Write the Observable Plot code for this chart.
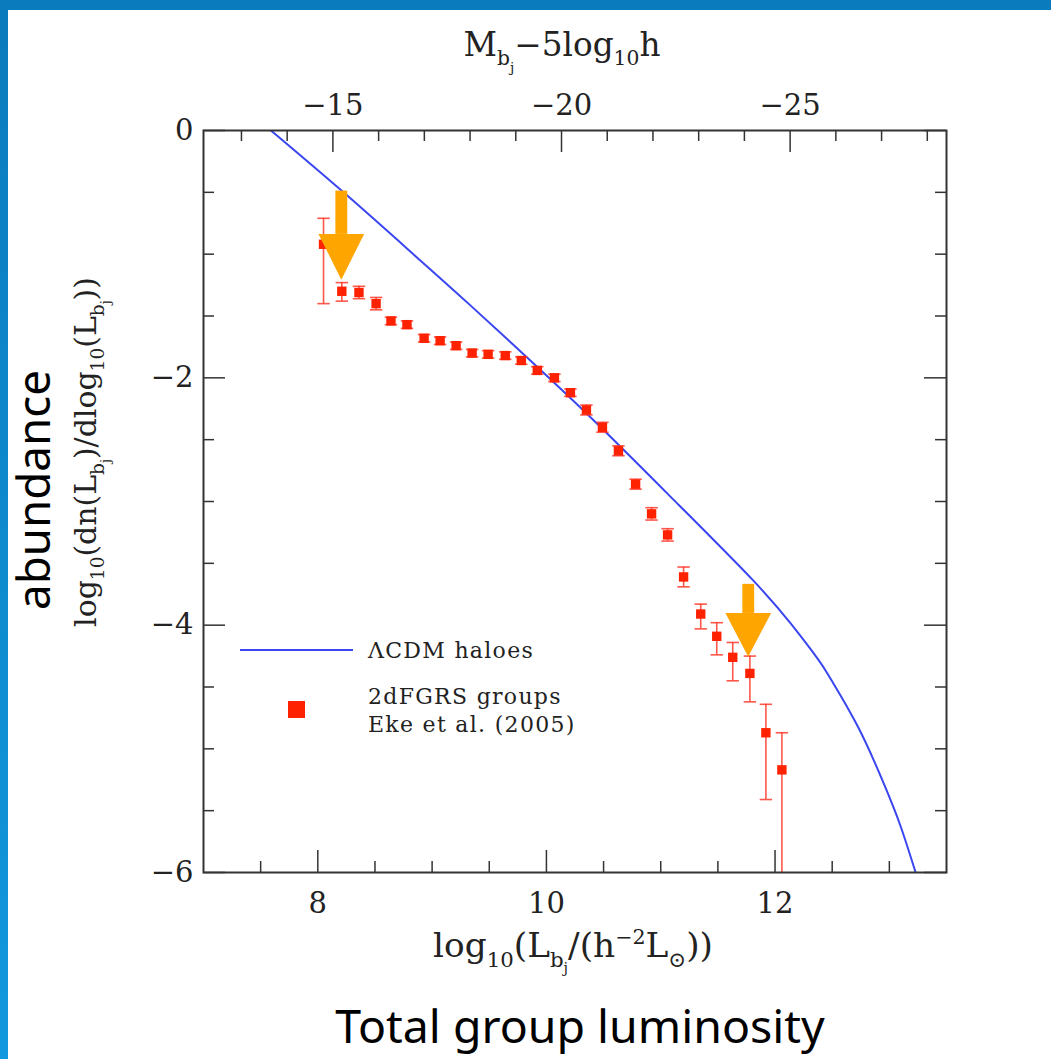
<!DOCTYPE html>
<html>
<head>
<meta charset="utf-8">
<script src="https://cdn.jsdelivr.net/npm/d3@7"></script>
<script src="https://cdn.jsdelivr.net/npm/@observablehq/plot@0.6"></script>
<style>
html, body { margin: 0; padding: 0; background: #fff; }
#page { position: relative; width: 1051px; height: 1059px; overflow: hidden; background: #fff; }
#topband { position: absolute; left: 0; top: 0; width: 1051px; height: 10px; background: #0a7bbd; }
#leftband { position: absolute; left: 0; top: 0; width: 8px; height: 1059px; background: linear-gradient(#0a7bbd, #1298de); }
#chart { position: absolute; left: 0; top: 0; }
</style>
</head>
<body>
<div id="page">
  <div id="chart"></div>
  <div id="topband"></div>
  <div id="leftband"></div>
</div>
<script>
// ---------- data ----------
const lumX   = [8.05, 8.21, 8.36, 8.51, 8.64, 8.78, 8.93, 9.07, 9.21, 9.35, 9.49, 9.64, 9.78, 9.92, 10.07, 10.21, 10.35, 10.49, 10.63, 10.78, 10.92, 11.06, 11.20, 11.35, 11.49, 11.63, 11.78, 11.92, 12.06];
const abund  = [-0.92, -1.30, -1.31, -1.40, -1.54, -1.57, -1.68, -1.70, -1.74, -1.80, -1.81, -1.82, -1.86, -1.94, -2.00, -2.12, -2.26, -2.40, -2.59, -2.86, -3.10, -3.27, -3.61, -3.91, -4.09, -4.26, -4.39, -4.87, -5.17];
const errHi  = [-0.71, -1.23, -1.26, -1.35, -1.51, -1.54, -1.65, -1.67, -1.71, -1.77, -1.78, -1.79, -1.83, -1.91, -1.97, -2.09, -2.22, -2.36, -2.55, -2.82, -3.05, -3.22, -3.53, -3.83, -3.98, -4.14, -4.25, -4.64, -4.87];
const errLo  = [-1.40, -1.38, -1.36, -1.45, -1.57, -1.60, -1.71, -1.73, -1.77, -1.83, -1.84, -1.85, -1.89, -1.97, -2.03, -2.15, -2.30, -2.44, -2.63, -2.90, -3.15, -3.32, -3.69, -4.03, -4.24, -4.45, -4.62, -5.41, -6.50];

const haloX = [7.59, 8.25, 8.86, 9.33, 9.97, 10.52, 11.16, 11.80, 12.14, 12.38, 12.49, 12.73, 12.96, 13.10, 13.23];
const haloY = [0.00, -0.52, -1.02, -1.41, -1.955, -2.44, -3.03, -3.63, -3.99, -4.28, -4.44, -4.83, -5.30, -5.63, -6.00];

// annotation arrows (orange)
const arrowX    = [8.21, 11.77];
const arrowTop  = [-0.49, -3.67];
const arrowNeck = [-0.84, -3.905];
const arrowTip  = [-1.21, -4.26];

// axes
const xMajor = [8, 10, 12];
const xMinor = [7.5, 8.5, 9, 9.5, 10.5, 11, 11.5, 12.5, 13];
const yMajor = [0, -2, -4, -6];
const yMinor = [-0.5, -1, -1.5, -2.5, -3, -3.5, -4.5, -5, -5.5];
const magMajor = [-15, -20, -25];
const magMinor = [-13, -14, -16, -17, -18, -19, -21, -22, -23, -24, -26, -27, -28];
const Msun = 5.33;

const legendLabels = ["ΛCDM haloes", "2dFGRS groups", "Eke et al. (2005)"];

// ---------- layout ----------
const W = 1051, H = 1059, mL = 203, mR = 105, mT = 130, mB = 187;
const fw = W - mL - mR, fh = H - mT - mB;
const majorLen = 22, minorLen = 11;
const axisColor = "#333";
const serif = "DejaVu Serif";
const toLogL = m => (Msun - m) / 2.5;
const fmt = d => (d < 0 ? "\u2212" : "") + Math.abs(d);

const points = lumX.map((x, i) => ({x, y: abund[i], hi: errHi[i], lo: errLo[i]}));
const halo = haloX.map((x, i) => ({x, y: haloY[i]}));
const arrows = arrowX.map((x, i) => ({x, top: arrowTop[i], neck: arrowNeck[i], tip: arrowTip[i], id: i}));
const heads = arrows.flatMap(a => [
  {x: a.x - 0.20, y1: a.neck, y2: a.neck, id: a.id},
  {x: a.x,        y1: a.neck, y2: a.tip,  id: a.id},
  {x: a.x + 0.20, y1: a.neck, y2: a.neck, id: a.id}
]);

const capSymbol = { draw(ctx, size) { const w = Math.sqrt(size); ctx.moveTo(-w / 2, 0); ctx.lineTo(w / 2, 0); } };

const ticks = (vals, orient, len, side) => {
  if (orient === "x") {
    return Plot.tickX(vals, {x: d => d, stroke: axisColor, strokeWidth: 1.5,
      ...(side === "bottom" ? {insetTop: fh - len} : {insetBottom: fh - len})});
  }
  return Plot.tickY(vals, {y: d => d, stroke: axisColor, strokeWidth: 1.5,
    ...(side === "left" ? {insetRight: fw - len} : {insetLeft: fw - len})});
};

const plot = Plot.plot({
  width: W, height: H,
  marginLeft: mL, marginRight: mR, marginTop: mT, marginBottom: mB,
  x: {domain: [7, 13.5]},
  y: {domain: [-6, 0]},
  style: {background: "transparent", fontFamily: serif, color: "#222"},
  marks: [
    // inward ticks
    ticks(xMajor, "x", majorLen, "bottom"),
    ticks(xMinor, "x", minorLen, "bottom"),
    ticks(magMajor.map(toLogL), "x", majorLen, "top"),
    ticks(magMinor.map(toLogL), "x", minorLen, "top"),
    ticks(yMajor, "y", majorLen, "left"),
    ticks(yMinor, "y", minorLen, "left"),
    ticks(yMajor, "y", majorLen, "right"),
    ticks(yMinor, "y", minorLen, "right"),
    // tick labels
    Plot.axisX(xMajor, {anchor: "bottom", tickSize: 0, tickPadding: 20, tickFormat: fmt, fontSize: 29, label: null}),
    Plot.axisX(magMajor.map(toLogL), {anchor: "top", tickSize: 0, tickPadding: 16, fontSize: 29, label: null,
      tickFormat: d => fmt(Math.round(Msun - 2.5 * d))}),
    Plot.axisY(yMajor, {anchor: "left", tickSize: 0, tickPadding: 10, tickFormat: fmt, fontSize: 29, label: null}),
    // model curve
    Plot.line(halo, {x: "x", y: "y", stroke: "#3a46f0", strokeWidth: 2, curve: "natural", clip: true}),
    // error bars
    Plot.ruleX(points, {x: "x", y1: "lo", y2: "hi", stroke: "#ff3a2a", strokeOpacity: 0.85, strokeWidth: 1.6, clip: true}),
    Plot.dot(points, {x: "x", y: "hi", symbol: capSymbol, r: 7, stroke: "#ff3a2a", strokeOpacity: 0.85, strokeWidth: 1.6, clip: true}),
    Plot.dot(points, {x: "x", y: "lo", symbol: capSymbol, r: 7, stroke: "#ff3a2a", strokeOpacity: 0.85, strokeWidth: 1.6, clip: true}),
    // data points
    Plot.dot(points, {x: "x", y: "y", symbol: "square", r: 5.3, fill: "#ff2200", stroke: "none"}),
    // orange arrows
    Plot.rect(arrows, {x1: d => d.x - 0.052, x2: d => d.x + 0.052, y1: "top", y2: "neck", fill: "#ffa500"}),
    Plot.areaY(heads, {x: "x", y1: "y1", y2: "y2", z: "id", fill: "#ffa500"}),
    Plot.frame({stroke: axisColor, strokeWidth: 2})
  ]
});

document.getElementById("chart").appendChild(plot);

// ---------- titles & legend (added to the same svg) ----------
const svg = d3.select(plot);

function richText(x, y, parts, {size = 30, anchor = "middle", rotate = 0, family = serif, fill = "#222", fit = null} = {}) {
  const build = (s) => {
    const t = svg.append("text")
      .attr("text-anchor", anchor).attr("font-family", family).attr("font-size", s).attr("fill", fill)
      .attr("transform", `translate(${x},${y}) rotate(${rotate})`);
    let cur = 0;
    const offs = {n: 0, sub: 0.28 * s, sup: -0.38 * s, subsub: 0.48 * s};
    const sizes = {n: s, sub: s * 0.62, sup: s * 0.6, subsub: s * 0.42};
    for (const [txt, lvl] of parts) {
      t.append("tspan").attr("dy", offs[lvl] - cur).attr("font-size", sizes[lvl]).text(txt);
      cur = offs[lvl];
    }
    return t;
  };
  let t = build(size);
  if (fit) {
    const w = t.node().getBBox().width;
    if (w > 0) { t.remove(); t = build(size * fit / w); }
  }
  return t;
}

// top axis title
richText(562, 56, [["M", "n"], ["b", "sub"], ["j", "subsub"], ["\u22125log", "n"], ["10", "sub"], ["h", "n"]], {size: 30, fit: 197});
// bottom axis title
richText(573, 957, [["log", "n"], ["10", "sub"], ["(L", "n"], ["b", "sub"], ["j", "subsub"], ["/(h", "n"], ["\u22122", "sup"], ["L", "n"], ["\u2299", "sub"], ["))", "n"]], {size: 30, fit: 280});
// left axis title
richText(96, 452, [["log", "n"], ["10", "sub"], ["(dn(L", "n"], ["b", "sub"], ["j", "subsub"], [")/dlog", "n"], ["10", "sub"], ["(L", "n"], ["b", "sub"], ["j", "subsub"], ["))", "n"]], {size: 30, rotate: -90, fit: 350});

// slide annotations
richText(50, 490, [["abundance", "n"]], {size: 46, rotate: -90, family: "Noto Sans", fill: "#000", fit: 240});
richText(580, 1043, [["Total group luminosity", "n"]], {size: 42, family: "Noto Sans", fill: "#000", fit: 490});

// legend
const lg = svg.append("g").attr("font-family", serif).attr("font-size", 22).attr("fill", "#222")
  .attr("text-anchor", "start").attr("letter-spacing", 1.3);
lg.append("line").attr("x1", 240).attr("x2", 353).attr("y1", 650).attr("y2", 650).attr("stroke", "#3a46f0").attr("stroke-width", 2);
lg.append("text").attr("x", 368).attr("y", 650).attr("dy", "0.35em").text(legendLabels[0]);
lg.append("rect").attr("x", 288).attr("y", 701).attr("width", 17).attr("height", 17).attr("fill", "#ff2200");
lg.append("text").attr("x", 368).attr("y", 696).attr("dy", "0.35em").text(legendLabels[1]);
lg.append("text").attr("x", 368).attr("y", 724).attr("dy", "0.35em").text(legendLabels[2]);
</script>
</body>
</html>
